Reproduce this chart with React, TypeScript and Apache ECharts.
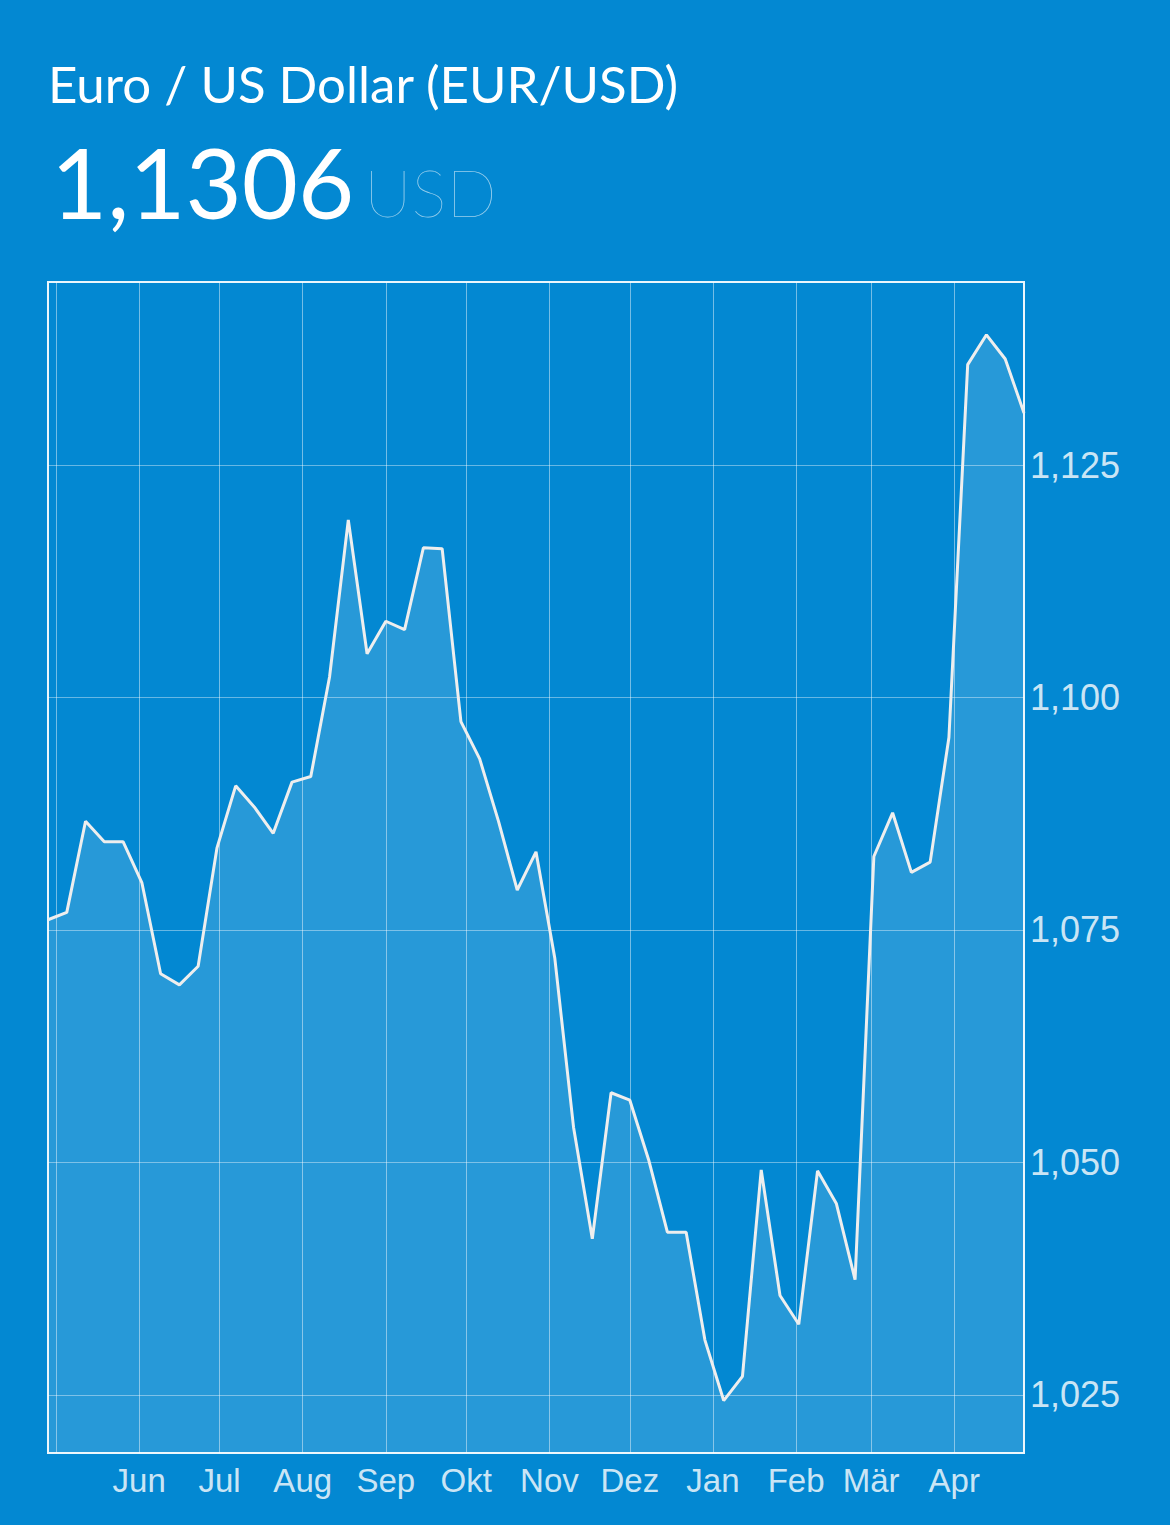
import React, { useEffect, useRef } from "react";
import * as echarts from "echarts";

const titleText = "Euro / US Dollar (EUR/USD)";
const priceText = "1,1306";
const unitText = "USD";

const startDate = "2016-04-28";
const endDate = "2017-04-27";

// weekly closing values
const rates = [
  1.0761, 1.0769, 1.0867, 1.0845, 1.0845, 1.0801, 1.0703, 1.0691, 1.0711, 1.0838,
  1.0905, 1.0882, 1.0854, 1.0909, 1.0915, 1.1022, 1.1191, 1.1047, 1.1082, 1.1073,
  1.1161, 1.116, 1.0974, 1.0934, 1.0867, 1.0793, 1.0834, 1.072, 1.0538, 1.0418,
  1.0575, 1.0567, 1.0503, 1.0425, 1.0425, 1.0309, 1.0244, 1.027, 1.0492, 1.0357,
  1.0326, 1.0491, 1.0456, 1.0374, 1.0829, 1.0876, 1.0812, 1.0823, 1.0957, 1.1358,
  1.139, 1.1364, 1.1306,
];

const monthStarts = [
  "2016-05-01", "2016-06-01", "2016-07-01", "2016-08-01", "2016-09-01", "2016-10-01",
  "2016-11-01", "2016-12-01", "2017-01-01", "2017-02-01", "2017-03-01", "2017-04-01",
];
const monthLabels = ["", "Jun", "Jul", "Aug", "Sep", "Okt", "Nov", "Dez", "Jan", "Feb", "Mär", "Apr"];

const yTicks = [1.025, 1.05, 1.075, 1.1, 1.125];
const yMin = 1.01876;
const yMax = 1.14468;

const DAY = 86400000;
const toTs = (s: string) => Date.parse(s + "T00:00:00Z");

export default function App() {
  const ref = useRef<HTMLDivElement>(null);
  useEffect(() => {
    if (!ref.current) return;
    const chart = echarts.init(ref.current, null, { renderer: "svg" });
    const t0 = toTs(startDate);
    const dayOf = (s: string) => Math.round((toTs(s) - t0) / DAY);
    const data = rates.map((v, i) => [i * 7, v]);
    const monthDays = monthStarts.map(dayOf);
    const labelDays = monthDays.filter((_, i) => monthLabels[i] !== "");
    chart.setOption({
      animation: false,
      backgroundColor: "#0388d2",
      grid: {
        left: 48,
        right: 146,
        top: 282,
        bottom: 72,
        show: true,
        borderColor: "rgba(255,255,255,0.92)",
        borderWidth: 2,
        backgroundColor: "transparent",
      },
      graphic: [
        {
          type: "text",
          left: 48,
          top: 58,
          style: {
            text: titleText,
            fill: "#ffffff",
            font: "400 51px Lato",
          },
        },
        {
          type: "text",
          left: 51,
          top: 133,
          style: {
            text: priceText,
            fill: "#ffffff",
            font: "400 97px Lato",
          },
        },
        {
          type: "text",
          left: 364,
          top: 158,
          style: {
            text: unitText,
            fill: "rgba(255,255,255,0.6)",
            font: "200 66px Lato",
          },
        },
      ],
      xAxis: {
        type: "value",
        min: 0,
        max: dayOf(endDate),
        axisLine: { show: false },
        axisTick: { show: false, customValues: monthDays },
        splitLine: { show: true, lineStyle: { color: "rgba(255,255,255,0.45)", width: 1 } },
        axisLabel: {
          customValues: labelDays,
          color: "rgba(230,243,250,0.9)",
          fontFamily: "Liberation Sans, Arial, sans-serif",
          fontSize: 33,
          margin: 11,
          formatter: (v: number) => {
            const idx = monthDays.indexOf(Math.round(v));
            return idx >= 0 ? monthLabels[idx] : "";
          },
        },
      },
      yAxis: {
        type: "value",
        position: "right",
        min: yMin,
        max: yMax,
        axisLine: { show: false },
        axisTick: { show: false, customValues: yTicks },
        splitLine: { show: true, lineStyle: { color: "rgba(255,255,255,0.4)", width: 1 } },
        axisLabel: {
          customValues: yTicks,
          color: "rgba(230,243,250,0.9)",
          fontFamily: "Liberation Sans, Arial, sans-serif",
          fontSize: 36,
          margin: 6,
          formatter: (v: number) => v.toFixed(3).replace(".", ","),
        },
      },
      series: [
        {
          type: "line",
          data,
          symbol: "none",
          lineStyle: { color: "#eeeeee", width: 3 },
          areaStyle: { color: "rgba(255,255,255,0.21)" },
        },
      ],
    });
    return () => chart.dispose();
  }, []);
  return (
    <div
      ref={ref}
      style={{ position: "absolute", left: 0, top: 0, width: 1170, height: 1525 }}
    />
  );
}
